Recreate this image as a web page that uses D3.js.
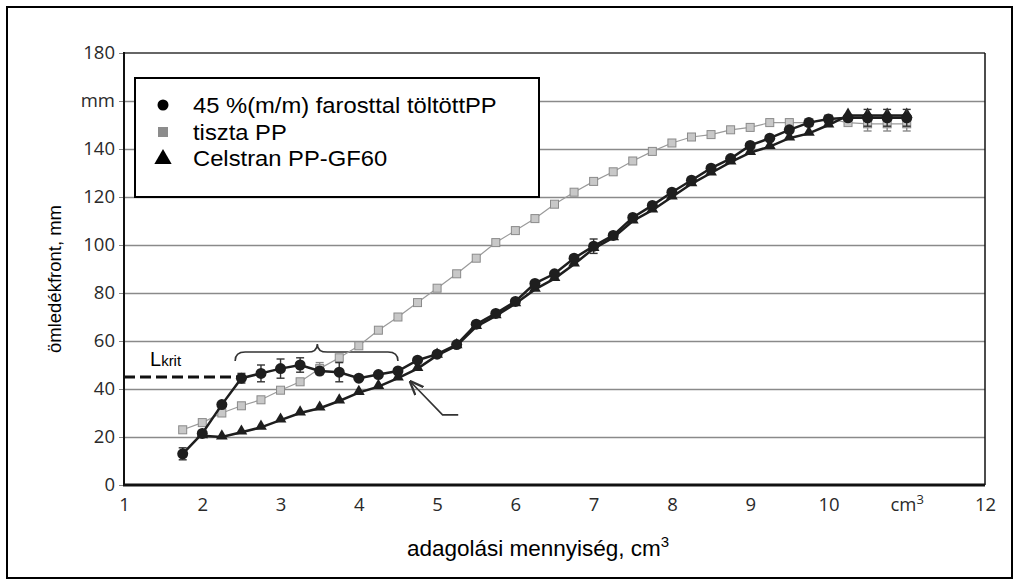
<!DOCTYPE html>
<html>
<head>
<meta charset="utf-8">
<script src="https://cdn.jsdelivr.net/npm/d3@7"></script>
<style>
  body { margin: 0; background: #fff; }
  svg { display: block; }
  .tick text { font-family: "Open Sans", "DejaVu Sans", sans-serif; font-size: 18.5px; fill: #2a2a2a; }
  .lab { font-family: "Liberation Sans", Arial, sans-serif; fill: #000; }
</style>
</head>
<body>
<div id="chart"></div>
<script>
// dosing volume, cm3
const fiberX = [1.75, 2, 2.25, 2.5, 2.75, 3, 3.25, 3.5, 3.75, 4, 4.25, 4.5, 4.75, 5, 5.25, 5.5, 5.75, 6, 6.25, 6.5, 6.75, 7, 7.25, 7.5, 7.75, 8, 8.25, 8.5, 8.75, 9, 9.25, 9.5, 9.75, 10, 10.25, 10.5, 10.75, 11];
const fiberY = [13, 21.5, 33.5, 44.5, 46.5, 48.5, 50, 47.5, 47, 44.5, 46, 47.5, 52, 54.5, 58.5, 67, 71.5, 76.5, 84, 88, 94.5, 99.5, 104, 111.5, 116.5, 122, 127, 132, 136, 141.5, 144.5, 148, 151, 152.5, 153, 153, 153, 153];
const fiberErr = [2.5, 0, 0, 2, 3.5, 4, 3, 0, 4, 0, 0, 0, 0, 0, 0, 0, 0, 0, 0, 0, 0, 3, 0, 0, 0, 0, 0, 0, 0, 0, 0, 0, 0, 0, 0, 3.5, 3.5, 3.5];

const pureX = [1.75, 2, 2.25, 2.5, 2.75, 3, 3.25, 3.5, 3.75, 4, 4.25, 4.5, 4.75, 5, 5.25, 5.5, 5.75, 6, 6.25, 6.5, 6.75, 7, 7.25, 7.5, 7.75, 8, 8.25, 8.5, 8.75, 9, 9.25, 9.5, 9.75, 10, 10.25, 10.5, 10.75, 11];
const pureY = [23, 26, 30, 33, 35.5, 39.5, 43, 48.5, 53, 58, 64.5, 70, 76, 82, 88, 94.5, 101, 106, 111, 117, 122, 126.5, 130.5, 135, 139, 142.5, 145, 146, 148, 149, 151, 151, 151, 152.5, 151, 150.5, 150.5, 150.5];
const pureErr = [0, 0, 0, 0, 0, 0, 0, 2.5, 0, 0, 0, 0, 0, 0, 0, 0, 0, 0, 0, 0, 0, 0, 0, 0, 0, 0, 0, 0, 0, 0, 0, 0, 0, 0, 0, 3, 3, 3];

const celX = [2, 2.25, 2.5, 2.75, 3, 3.25, 3.5, 3.75, 4, 4.25, 4.5, 4.75, 5, 5.25, 5.5, 5.75, 6, 6.25, 6.5, 6.75, 7, 7.25, 7.5, 7.75, 8, 8.25, 8.5, 8.75, 9, 9.25, 9.5, 9.75, 10, 10.25, 10.5, 10.75, 11];
const celY = [20.5, 20, 22, 24, 27, 30, 32, 35, 38.5, 41, 44.5, 48.5, 54, 58, 66, 70.5, 75.5, 81.5, 86, 92, 98.5, 103, 110, 114.5, 120, 125.5, 130, 134.5, 138.5, 141, 144.5, 146.5, 150, 154, 154, 154, 154];

const seriesNames = ["45 %(m/m) farosttal töltöttPP", "tiszta PP", "Celstran PP-GF60"];
const yTicks = [0, 20, 40, 60, 80, 100, 120, 140, 160, 180];
const yTickLabels = ["0", "20", "40", "60", "80", "100", "120", "140", "mm", "180"];
const gridVals = [20, 40, 60, 80, 100, 120, 140, 160];
const xTicks = [1, 2, 3, 4, 5, 6, 7, 8, 9, 10, 11, 12];
const xTickLabels = ["1", "2", "3", "4", "5", "6", "7", "8", "9", "10", "cm", "12"];
const lKrit = 45;

const W = 1019, H = 585;
const svg = d3.select("#chart").append("svg").attr("width", W).attr("height", H);

svg.append("rect").attr("x", 7).attr("y", 7).attr("width", 1005).attr("height", 571)
   .attr("fill", "none").attr("stroke", "#000").attr("stroke-width", 2);

const x = d3.scaleLinear().domain([1, 12]).range([124, 985]);
const y = d3.scaleLinear().domain([0, 180]).range([485, 53]);

// grid
svg.append("g")
   .attr("transform", "translate(" + x(1) + ",0)")
   .call(d3.axisLeft(y).tickValues(gridVals).tickSize(-(x(12) - x(1))).tickFormat(""))
   .call(g => g.select(".domain").remove())
   .call(g => g.selectAll("line").attr("stroke", "#8a8a8a").attr("stroke-width", 1.3));

// y axis
svg.append("g")
   .attr("transform", "translate(" + x(1) + ",0)")
   .call(d3.axisLeft(y).tickValues(yTicks).tickSize(5).tickPadding(4).tickFormat((d, i) => yTickLabels[i]))
   .call(g => g.select(".domain").remove())
   .call(g => g.selectAll("line").attr("stroke", "#888"));

// x axis
const xg = svg.append("g")
   .attr("transform", "translate(0," + y(0) + ")")
   .call(d3.axisBottom(x).tickValues(xTicks).tickSize(0).tickPadding(13).tickFormat((d, i) => xTickLabels[i]))
   .call(g => g.select(".domain").remove());
xg.selectAll(".tick text").filter(d => d === 11)
   .append("tspan").attr("dy", "-0.55em").attr("font-size", "13px").text("3");

// frame
svg.append("line").attr("x1", x(1)).attr("x2", x(12)).attr("y1", y(180)).attr("y2", y(180))
   .attr("stroke", "#333").attr("stroke-width", 1.5);
svg.append("line").attr("x1", x(12)).attr("x2", x(12)).attr("y1", y(180)).attr("y2", y(0))
   .attr("stroke", "#111").attr("stroke-width", 1.5);
svg.append("line").attr("x1", x(1)).attr("x2", x(1)).attr("y1", y(180) - 1).attr("y2", y(0) + 1)
   .attr("stroke", "#111").attr("stroke-width", 2);
svg.append("line").attr("x1", x(1) - 1).attr("x2", x(12)).attr("y1", y(0)).attr("y2", y(0))
   .attr("stroke", "#111").attr("stroke-width", 3);

// L_krit dashed line
svg.append("line").attr("x1", x(1)).attr("x2", x(2.45)).attr("y1", y(lKrit)).attr("y2", y(lKrit))
   .attr("stroke", "#111").attr("stroke-width", 3).attr("stroke-dasharray", "11,5");
const lk = svg.append("text").attr("class", "lab").attr("x", 150).attr("y", 366).attr("font-size", "20px").text("L");
lk.append("tspan").attr("font-size", "15px").text("krit");

// brace over the plateau
const bx0 = x(2.42), bx1 = x(4.5), bm = x(3.47);
const byEnd = y(51.7), byLine = y(55.4), byTip = y(58.8);
const br = d3.path();
br.moveTo(bx0, byEnd);
br.quadraticCurveTo(bx0, byLine, bx0 + 10, byLine);
br.lineTo(bm - 10, byLine);
br.quadraticCurveTo(bm, byLine, bm, byTip);
br.quadraticCurveTo(bm, byLine, bm + 10, byLine);
br.lineTo(bx1 - 10, byLine);
br.quadraticCurveTo(bx1, byLine, bx1, byEnd);
svg.append("path").attr("d", br.toString()).attr("fill", "none").attr("stroke", "#333").attr("stroke-width", 1.6);

// arrow
svg.append("defs").append("marker").attr("id", "ah").attr("viewBox", "0 0 10 10")
   .attr("refX", 9).attr("refY", 5).attr("markerWidth", 9).attr("markerHeight", 9).attr("orient", "auto")
   .append("path").attr("d", "M0,1 L10,5 L0,9").attr("fill", "none").attr("stroke", "#333").attr("stroke-width", 1.6);
const ar = d3.path();
ar.moveTo(x(5.27), y(29.2));
ar.lineTo(x(5.07), y(29.2));
ar.lineTo(x(4.66), y(43));
svg.append("path").attr("d", ar.toString()).attr("fill", "none").attr("stroke", "#333")
   .attr("stroke-width", 1.6).attr("marker-end", "url(#ah)");

// error bar helper
function errBars(xs, ys, es, color) {
  const g = svg.append("g").attr("stroke", color).attr("stroke-width", 1.4);
  xs.forEach((d, i) => {
    if (!es[i]) return;
    const cx = x(d), t = y(ys[i] + es[i]), b = y(ys[i] - es[i]);
    g.append("line").attr("x1", cx).attr("x2", cx).attr("y1", t).attr("y2", b);
    g.append("line").attr("x1", cx - 4).attr("x2", cx + 4).attr("y1", t).attr("y2", t);
    g.append("line").attr("x1", cx - 4).attr("x2", cx + 4).attr("y1", b).attr("y2", b);
  });
}

const line = d3.line().x(d => x(d[0])).y(d => y(d[1]));

// pure PP (gray squares)
const pure = pureX.map((d, i) => [d, pureY[i]]);
errBars(pureX, pureY, pureErr, "#888");
svg.append("path").datum(pure).attr("d", line).attr("fill", "none").attr("stroke", "#9a9a9a").attr("stroke-width", 1.2);
svg.append("g").selectAll("rect").data(pure).join("rect")
   .attr("x", d => x(d[0]) - 4).attr("y", d => y(d[1]) - 4).attr("width", 8).attr("height", 8)
   .attr("fill", "#c8c8c8").attr("stroke", "#8a8a8a").attr("stroke-width", 1);

// Celstran (triangles)
const cel = celX.map((d, i) => [d, celY[i]]);
svg.append("path").datum(cel).attr("d", line).attr("fill", "none").attr("stroke", "#1e1e1e").attr("stroke-width", 2.5);
const tri = d3.symbol().type(d3.symbolTriangle).size(60);
svg.append("g").selectAll("path").data(cel).join("path")
   .attr("transform", d => "translate(" + x(d[0]) + "," + (y(d[1]) - 1) + ")")
   .attr("d", tri).attr("fill", "#1e1e1e");

// fiber filled PP (circles)
const fib = fiberX.map((d, i) => [d, fiberY[i]]);
errBars(fiberX, fiberY, fiberErr, "#333");
svg.append("path").datum(fib).attr("d", line).attr("fill", "none").attr("stroke", "#1e1e1e").attr("stroke-width", 2.5);
svg.append("g").selectAll("circle").data(fib).join("circle")
   .attr("cx", d => x(d[0])).attr("cy", d => y(d[1])).attr("r", 5.5).attr("fill", "#1e1e1e");

// legend
const lg = svg.append("g");
lg.append("rect").attr("x", 135).attr("y", 78).attr("width", 404).attr("height", 119)
  .attr("fill", "#fff").attr("stroke", "#000").attr("stroke-width", 2);
const rows = [105, 132, 158];
lg.append("circle").attr("cx", 163).attr("cy", rows[0]).attr("r", 5.5).attr("fill", "#000");
lg.append("rect").attr("x", 158).attr("y", rows[1] - 5).attr("width", 10).attr("height", 10).attr("fill", "#8c8c8c");
lg.append("path").attr("transform", "translate(163," + (rows[2] + 1) + ")")
  .attr("d", d3.symbol().type(d3.symbolTriangle).size(130)).attr("fill", "#000");
seriesNames.forEach((n, i) => {
  const t = lg.append("text").attr("class", "lab").attr("x", 193).attr("y", rows[i] + 8)
    .attr("font-size", "22px").text(n);
  const w = t.node().getComputedTextLength();
  t.attr("textLength", w * 1.08).attr("lengthAdjust", "spacingAndGlyphs");
});

// axis titles
svg.append("text").attr("class", "lab").attr("font-size", "18.5px").attr("text-anchor", "middle")
   .attr("transform", "translate(61,279) rotate(-90)").text("ömledékfront, mm");
const xt = svg.append("text").attr("class", "lab").attr("font-size", "22.5px").attr("text-anchor", "middle")
   .attr("x", 538).attr("y", 556).text("adagolási mennyiség, cm");
xt.append("tspan").attr("dy", "-0.6em").attr("font-size", "15px").text("3");
</script>
</body>
</html>
